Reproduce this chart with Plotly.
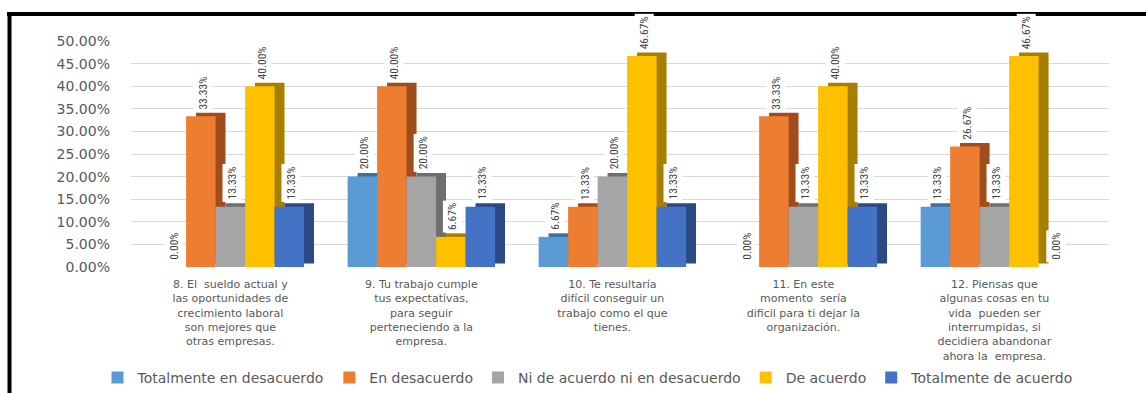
import plotly.graph_objects as go

categories = [
    "8. El  sueldo actual y<br>las oportunidades de<br>crecimiento laboral<br>son mejores que<br>otras empresas.",
    "9. Tu trabajo cumple<br>tus expectativas,<br>para seguir<br>perteneciendo a la<br>empresa.",
    "10. Te resultaría<br>difícil conseguir un<br>trabajo como el que<br>tienes.",
    "11. En este<br>momento  sería<br>dificil para ti dejar la<br>organización.",
    "12. Piensas que<br>algunas cosas en tu<br>vida  pueden ser<br>interrumpidas, si<br>decidiera abandonar<br>ahora la  empresa.",
]
series_names = [
    "Totalmente en desacuerdo",
    "En desacuerdo",
    "Ni de acuerdo ni en desacuerdo",
    "De acuerdo",
    "Totalmente de acuerdo",
]
totalmente_en_desacuerdo = [0.0, 0.20, 0.0667, 0.0, 0.1333]
en_desacuerdo = [0.3333, 0.40, 0.1333, 0.3333, 0.2667]
ni_ni = [0.1333, 0.20, 0.20, 0.1333, 0.1333]
de_acuerdo = [0.40, 0.0667, 0.4667, 0.40, 0.4667]
totalmente_de_acuerdo = [0.1333, 0.1333, 0.1333, 0.1333, 0.0]
series_values = [totalmente_en_desacuerdo, en_desacuerdo, ni_ni, de_acuerdo, totalmente_de_acuerdo]
y_ticks = [0.0, 0.05, 0.10, 0.15, 0.20, 0.25, 0.30, 0.35, 0.40, 0.45, 0.50]

front_colors = ["#5B9BD5", "#ED7D31", "#A5A5A5", "#FFC000", "#4472C4"]
side_colors = ["#3F6F9C", "#A04D1E", "#6E6E6E", "#A67F00", "#2B4A85"]

xpos = list(range(len(categories)))
bw = 0.1544
group_w = bw * len(series_names)
dx = 0.052
dy = 0.0078

fig = go.Figure()
# depth (side) faces first
for k, vals in enumerate(series_values):
    off = -group_w / 2 + k * bw
    fig.add_trace(go.Bar(
        x=xpos, y=vals, base=[dy] * len(vals), offset=off + dx, width=bw,
        marker=dict(color=side_colors[k], line=dict(width=0)),
        showlegend=False, hoverinfo="skip",
    ))
# front faces
for k, vals in enumerate(series_values):
    off = -group_w / 2 + k * bw
    fig.add_trace(go.Bar(
        x=xpos, y=vals, offset=off, width=bw, name=series_names[k],
        marker=dict(color=front_colors[k], line=dict(width=0)),
        hoverinfo="skip",
    ))

annotations = []
for k, vals in enumerate(series_values):
    off = -group_w / 2 + k * bw
    for i, v in enumerate(vals):
        annotations.append(dict(
            x=i + off + bw / 2 + 0.01, y=v, xref="x", yref="y",
            text=f"{v*100:.2f}%", textangle=-90, showarrow=False,
            xanchor="center", yanchor="bottom", yshift=4,
            bgcolor="white", borderpad=2,
            font=dict(family="Liberation Sans Narrow, Roboto Condensed, Arial Narrow, sans-serif",
                      size=11.5, color="#404040"),
        ))

L, R, T, B = 131, 37, 41, 126
W, H = 1146, 393
pw = W - L - R
ph = H - T - B

def px_to_paper_x(px):
    return (px - L) / pw

def px_to_paper_y(py):
    return (H - B - py) / ph

shapes = [
    dict(type="line", xref="paper", yref="paper",
         x0=px_to_paper_x(7), x1=px_to_paper_x(1146), y0=px_to_paper_y(14), y1=px_to_paper_y(14),
         line=dict(color="black", width=4)),
    dict(type="line", xref="paper", yref="paper",
         x0=px_to_paper_x(9.5), x1=px_to_paper_x(9.5), y0=px_to_paper_y(12), y1=px_to_paper_y(393),
         line=dict(color="black", width=4)),
]

fig.update_layout(
    width=W, height=H,
    margin=dict(l=L, r=R, t=T, b=B, autoexpand=False),
    barmode="overlay",
    paper_bgcolor="white", plot_bgcolor="white",
    font=dict(family="DejaVu Sans, Verdana, sans-serif", color="#595959"),
    xaxis=dict(
        range=[-0.52, 4.6], tickvals=xpos, ticktext=categories,
        showgrid=False, zeroline=False, showline=False, ticks="",
        tickfont=dict(size=11, color="#595959"), tickangle=0,
        ticklabelstandoff=9, automargin=False,
    ),
    yaxis=dict(
        range=[0, 0.5], tickvals=y_ticks, tickformat=".2%",
        showgrid=True, gridcolor="#D9D9D9", gridwidth=1,
        zeroline=False, showline=False, ticks="",
        tickfont=dict(size=14, color="#595959"), ticklabelstandoff=20,
        automargin=False,
    ),
    legend=dict(
        orientation="h", x=px_to_paper_x(588), xanchor="center",
        y=px_to_paper_y(378), yanchor="middle",
        font=dict(size=14, color="#595959"), traceorder="normal",
        itemwidth=30, tracegroupgap=0, bgcolor="rgba(0,0,0,0)",
    ),
    annotations=annotations,
    shapes=shapes,
)

fig.write_html("out.html")
